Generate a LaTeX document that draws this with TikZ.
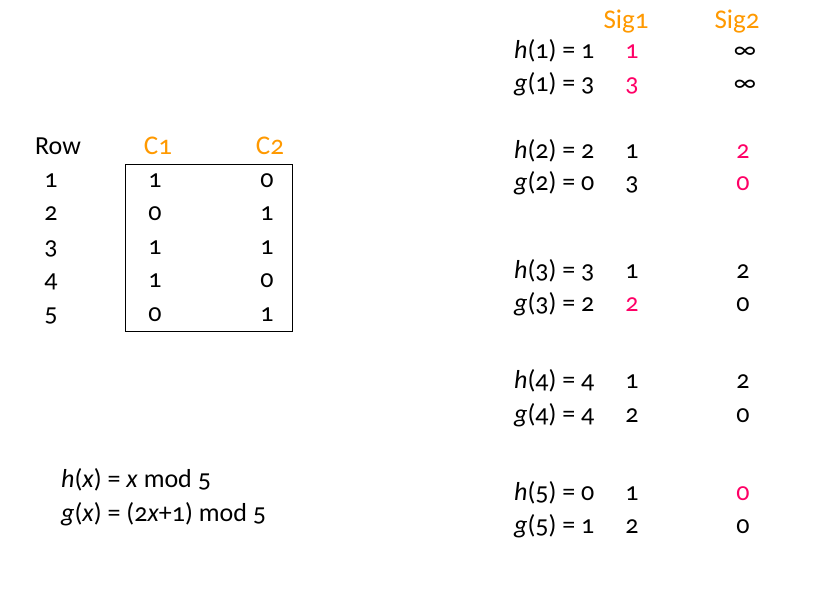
\documentclass[tikz,border=0pt]{standalone}
\usepackage{fontspec}
\setmainfont{Carlito}[Numbers=OldStyle]
\usepackage{tikz}

\definecolor{sigorange}{RGB}{255,153,0}
\definecolor{hitpink}{RGB}{255,0,102}

\tikzset{
	txt/.style={inner sep=0pt, anchor=base, font=\fontsize{26}{30}\selectfont},
	head/.style={txt, text=sigorange, font=\fontsize{27}{31}\selectfont},
	hit/.style={txt, text=hitpink},
	fn/.style={txt, anchor=base west}
}

\begin{document}
\begin{tikzpicture}[x=1pt,y=-1pt]
	\useasboundingbox (0,0) rectangle (824,606);

	% characteristic matrix
	\node[txt] (row) at (58,154) {Row};
	\node[head] (c1) at (158,154) {C1};
	\node[head] (c2) at (270,154) {C2};
	\node[txt] (r1) at (51,187) {1};
	\node[txt] (r2) at (51,220) {2};
	\node[txt] (r3) at (51,254) {3};
	\node[txt] (r4) at (51,287) {4};
	\node[txt] (r5) at (51,321) {5};
	\node[txt] (a1) at (155,187) {1};
	\node[txt] (a2) at (155,220) {0};
	\node[txt] (a3) at (155,254) {1};
	\node[txt] (a4) at (155,287) {1};
	\node[txt] (a5) at (155,321) {0};
	\node[txt] (b1) at (267,187) {0};
	\node[txt] (b2) at (267,220) {1};
	\node[txt] (b3) at (267,254) {1};
	\node[txt] (b4) at (267,287) {0};
	\node[txt] (b5) at (267,321) {1};
	\draw (125,164) rectangle (292,331);

	% hash functions
	\node[fn] (hx) at (61,487) {\textit{h}(\textit{x}) = \textit{x} mod 5};
	\node[fn] (gx) at (61,521) {\textit{g}(\textit{x}) = (2\textit{x}+1) mod 5};

	% signature columns
	\node[head] (sig1) at (626,28) {Sig1};
	\node[head] (sig2) at (737,28) {Sig2};

	\node[fn] (h1) at (514,58) {\textit{h}(1) = 1};
	\node[fn] (g1) at (514,91) {\textit{g}(1) = 3};
	\node[hit] (s11) at (632,58) {1};
	\node[hit] (s12) at (632,91) {3};
	\node[txt] (t11) at (745,58) {∞};
	\node[txt] (t12) at (745,91) {∞};

	\node[fn] (h2) at (514,158) {\textit{h}(2) = 2};
	\node[fn] (g2) at (514,190) {\textit{g}(2) = 0};
	\node[txt] (s21) at (632,158) {1};
	\node[txt] (s22) at (632,190) {3};
	\node[hit] (t21) at (743,158) {2};
	\node[hit] (t22) at (743,190) {0};

	\node[fn] (h3) at (514,278) {\textit{h}(3) = 3};
	\node[fn] (g3) at (514,311) {\textit{g}(3) = 2};
	\node[txt] (s31) at (632,278) {1};
	\node[hit] (s32) at (632,311) {2};
	\node[txt] (t31) at (743,278) {2};
	\node[txt] (t32) at (743,311) {0};

	\node[fn] (h4) at (514,388) {\textit{h}(4) = 4};
	\node[fn] (g4) at (514,422) {\textit{g}(4) = 4};
	\node[txt] (s41) at (632,388) {1};
	\node[txt] (s42) at (632,422) {2};
	\node[txt] (t41) at (743,388) {2};
	\node[txt] (t42) at (743,422) {0};

	\node[fn] (h5) at (514,500) {\textit{h}(5) = 0};
	\node[fn] (g5) at (514,533) {\textit{g}(5) = 1};
	\node[txt] (s51) at (632,500) {1};
	\node[txt] (s52) at (632,533) {2};
	\node[hit] (t51) at (743,500) {0};
	\node[txt] (t52) at (743,533) {0};
\end{tikzpicture}
\end{document}
